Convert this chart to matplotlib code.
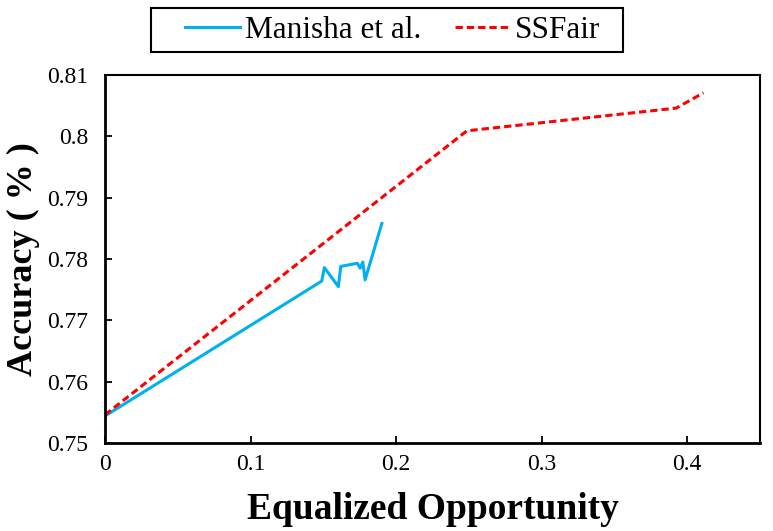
import matplotlib
matplotlib.use("Agg")
import matplotlib.pyplot as plt
from matplotlib.patches import Rectangle

# Data
manisha_x = [0.0, 0.1489, 0.1507, 0.1603, 0.1620, 0.1734, 0.1753, 0.1771, 0.1787, 0.1812, 0.1902]
manisha_y = [0.7544, 0.7764, 0.7786, 0.7755, 0.7788, 0.7793, 0.7785, 0.7795, 0.7766, 0.7786, 0.7858]
ssfair_x = [0.0, 0.2486, 0.3924, 0.4112]
ssfair_y = [0.7546, 0.8009, 0.8046, 0.8071]

x_ticks = [0, 0.1, 0.2, 0.3, 0.4]
x_tick_labels = ["0", "0.1", "0.2", "0.3", "0.4"]
y_ticks = [0.75, 0.76, 0.77, 0.78, 0.79, 0.80, 0.81]
y_tick_labels = ["0.75", "0.76", "0.77", "0.78", "0.79", "0.8", "0.81"]

plt.rcParams['font.family'] = ['Liberation Serif', 'DejaVu Serif']

W, H = 773, 531
fig = plt.figure(figsize=(W/100, H/100), dpi=100)
ax = fig.add_axes([105/W, 88/H, 655/W, 368/H])

l1, = ax.plot(manisha_x, manisha_y, color='#00B0F0', lw=2.2, label='Manisha et al.')
l2, = ax.plot(ssfair_x, ssfair_y, color='#FF0000', lw=2.2, ls=(0, (2.4, 1.3)), label='SSFair')

ax.set_xlim(0, 0.45)
ax.set_ylim(0.75, 0.81)
ax.set_xticks(x_ticks)
ax.set_xticklabels(x_tick_labels)
ax.set_yticks(y_ticks)
ax.set_yticklabels(y_tick_labels)
ax.tick_params(axis='both', direction='in', length=5, width=1.3, labelsize=17)
ax.tick_params(axis='x', pad=8)
ax.tick_params(axis='y', pad=12)

for s in ['left', 'bottom']:
    ax.spines[s].set_linewidth(2.0)
for s in ['top', 'right']:
    ax.spines[s].set_linewidth(1.5)

ax.set_xlabel('Equalized Opportunity', fontsize=27, fontweight='bold', labelpad=12)
ax.set_ylabel('Accuracy ( % )', fontsize=26, fontweight='bold', labelpad=5)

# legend frame box
fig.patches.append(Rectangle((151/W, 1 - 52/H), (623-151)/W, 44/H, transform=fig.transFigure,
                             facecolor='white', edgecolor='black', lw=1.5, zorder=0))
leg = fig.legend(handles=[l1, l2], loc='center left', bbox_to_anchor=(185/W, 1 - 30/H),
                 ncol=2, fontsize=22.5, frameon=False, handlelength=1.76, columnspacing=1.09,
                 handletextpad=0.16, borderpad=0, borderaxespad=0)

fig.savefig('out.png', dpi=100)
